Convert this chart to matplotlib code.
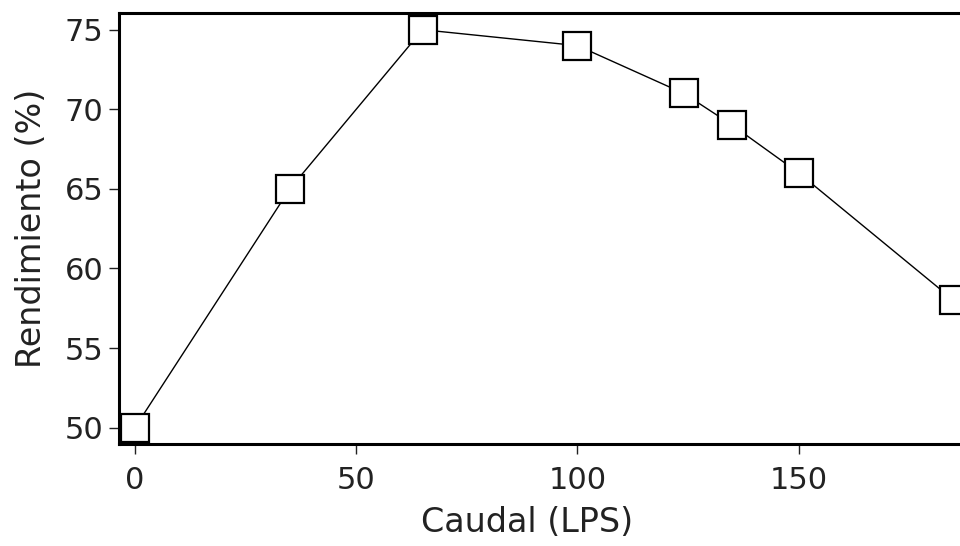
import matplotlib
matplotlib.use("Agg")
import matplotlib.pyplot as plt

caudal = [0, 35, 65, 100, 124, 135, 150, 185]
rendimiento = [50, 65, 75, 74, 71, 69, 66, 58]
xticks = [0, 50, 100, 150]
yticks = [50, 55, 60, 65, 70, 75]

plt.rcParams['font.family'] = ['DejaVu Sans']

fig = plt.figure(figsize=(9.6, 5.46), dpi=100)
ax = fig.add_axes([119/960, (546-444)/546, 1 - 119/960 + 0.01, (444-13)/546])
ax.plot(caudal, rendimiento, color='black', lw=1.0, marker='s', markersize=20,
        markerfacecolor='white', markeredgecolor='black', markeredgewidth=1.6,
        clip_on=False, zorder=3)
ax.set_xlim(-3.6, 188.6)
ax.set_ylim(48.97, 76.05)
ax.set_xticks(xticks)
ax.set_yticks(yticks)
for s in ['left', 'bottom', 'top', 'right']:
    ax.spines[s].set_linewidth(2.2)
ax.tick_params(direction='out', length=7, width=1, labelsize=22,
               colors='#222222')
ax.tick_params(axis='x', pad=9)
ax.tick_params(axis='y', pad=4)
ax.set_xlabel('Caudal (LPS)', fontsize=24, color='#222222')
ax.set_ylabel('Rendimiento (%)', fontsize=24, labelpad=12, color='#222222')
ax.xaxis.set_label_coords(0.48, -0.143)
fig.savefig('out.png', dpi=100)
